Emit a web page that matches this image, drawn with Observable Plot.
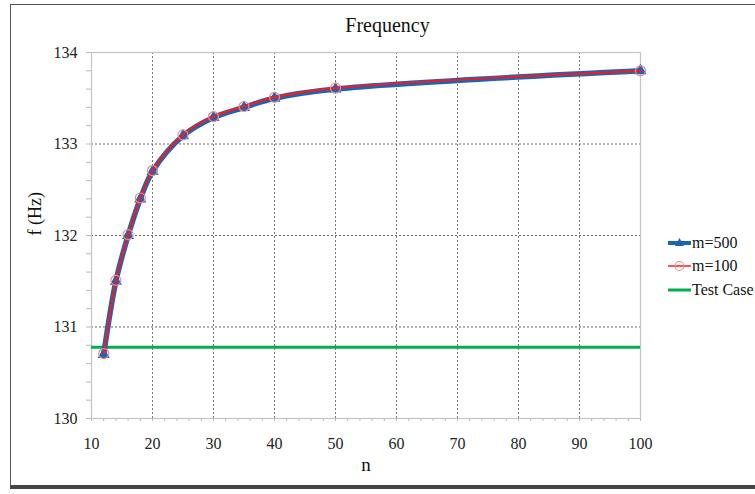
<!DOCTYPE html>
<html>
<head>
<meta charset="utf-8">
<script src="https://cdn.jsdelivr.net/npm/d3@7"></script>
<script src="https://cdn.jsdelivr.net/npm/@observablehq/plot@0.6"></script>
<style>
  html, body { margin: 0; padding: 0; background: #fff; overflow: hidden; }
  #wrap { position: relative; width: 755px; height: 494px; font-family: "Liberation Serif", "DejaVu Serif", serif; color: #111; }
  #border { position: absolute; left: 10px; top: 4px; width: 800px; height: 485px; border-left: 1px solid #555; border-top: 1px solid #555; border-bottom: 4px solid #444; box-sizing: border-box; }
  #title { position: absolute; top: 14px; left: 0; width: 775px; text-align: center; font-size: 20px; }
  #chart { position: absolute; left: 0; top: 0; }
  #chart svg text { font-family: "Liberation Serif", serif; }
  #legend { position: absolute; left: 668px; top: 231px; font-size: 16px; }
  .item { display: flex; align-items: center; height: 23.5px; white-space: nowrap; }
  .item svg { margin-right: 1px; }
</style>
</head>
<body>
<div id="wrap">
  <div id="border"></div>
  <div id="chart"></div>
  <div id="title">Frequency</div>
  <div id="legend"></div>
</div>
<script>
// ---- data ----
const nValues = [12, 14, 16, 18, 20, 25, 30, 35, 40, 50, 100];
const fM500   = [130.70, 131.50, 132.00, 132.40, 132.70, 133.09, 133.29, 133.40, 133.50, 133.60, 133.80];
const fM100   = [130.71, 131.51, 132.01, 132.41, 132.71, 133.10, 133.30, 133.41, 133.51, 133.61, 133.80];
const testCase = 130.78;
const seriesNames = ["m=500", "m=100", "Test Case"];
const xMajorTicks = [10, 20, 30, 40, 50, 60, 70, 80, 90, 100];
const yMajorTicks = [130, 131, 132, 133, 134];

const colors = { blue: "#1a66b5", red: "#ee1c24", redMarker: "#f08a8a", green: "#00b050" };
const serif = "Liberation Serif";

const m500 = nValues.map((n, i) => ({ n, f: fM500[i] }));
const m100 = nValues.map((n, i) => ({ n, f: fM100[i] }));

const xMinor = d3.range(10, 101, 2);
const yMinor = d3.range(0, 21).map(i => +(130 + i * 0.2).toFixed(1));
const isInt = d => Math.abs(d - Math.round(d)) < 1e-6;

const plot = Plot.plot({
  width: 755,
  height: 494,
  marginLeft: 91,
  marginRight: 115,
  marginTop: 52,
  marginBottom: 76,
  style: { fontFamily: serif, fontSize: "16px", color: "#222", background: "transparent" },
  x: { domain: [10, 100] },
  y: { domain: [130, 134] },
  marks: [
    Plot.ruleX(xMajorTicks.filter(d => d > 10 && d < 100), { stroke: "#777", strokeDasharray: "2,2", strokeWidth: 1 }),
    Plot.ruleY(yMajorTicks.filter(d => d > 130 && d < 134), { stroke: "#666", strokeDasharray: "2,2", strokeWidth: 1 }),
    Plot.frame({ stroke: "#c4c4c4", strokeWidth: 1.2 }),
    Plot.axisY({ ticks: yMinor, tickSize: 5, tickPadding: 9, stroke: "#bbb", tickFormat: d => isInt(d) ? String(Math.round(d)) : "", label: null, fill: "#222", fontSize: 16, fontFamily: serif }),
    Plot.axisX({ ticks: xMinor, tickSize: 3, tickPadding: 16, stroke: "#bbb", tickFormat: d => d % 10 === 0 ? String(d) : "", label: null, fill: "#222", fontSize: 16, fontFamily: serif }),
    Plot.ruleY([testCase], { stroke: colors.green, strokeWidth: 3 }),
    Plot.line(m500, { x: "n", y: "f", stroke: colors.blue, strokeWidth: 5.5, curve: "catmull-rom" }),
    Plot.dot(m500, { x: "n", y: "f", symbol: "triangle", fill: colors.blue, r: 4.5 }),
    Plot.line(m100, { x: "n", y: "f", stroke: colors.red, strokeWidth: 2.2, curve: "catmull-rom" }),
    Plot.dot(m100, { x: "n", y: "f", symbol: "circle", stroke: colors.redMarker, strokeWidth: 1.2, fill: "none", r: 5 }),
    Plot.text(["f (Hz)"], { frameAnchor: "left", dx: -56, rotate: -90, fontSize: 18, fill: "#111", fontFamily: serif }),
    Plot.text(["n"], { frameAnchor: "bottom", dy: 52, fontSize: 19, fill: "#111", fontFamily: serif })
  ]
});
document.getElementById("chart").appendChild(plot);

// ---- legend ----
const legend = d3.select("#legend");
const specs = [
  { name: seriesNames[0], stroke: colors.blue, w: 4, marker: "triangle" },
  { name: seriesNames[1], stroke: colors.red, w: 1.5, marker: "circle" },
  { name: seriesNames[2], stroke: colors.green, w: 3, marker: null }
];
specs.forEach(s => {
  const item = legend.append("div").attr("class", "item");
  const svg = item.append("svg").attr("width", 23).attr("height", 14);
  svg.append("line").attr("x1", 0).attr("x2", 23).attr("y1", 7).attr("y2", 7).attr("stroke", s.stroke).attr("stroke-width", s.w);
  if (s.marker === "triangle") svg.append("path").attr("d", "M11.5,2 L16,10 L7,10 Z").attr("fill", colors.blue);
  if (s.marker === "circle") svg.append("circle").attr("cx", 11.5).attr("cy", 7).attr("r", 4.5).attr("fill", "none").attr("stroke", colors.redMarker).attr("stroke-width", 1.2);
  item.append("span").text(s.name);
});
</script>
</body>
</html>
